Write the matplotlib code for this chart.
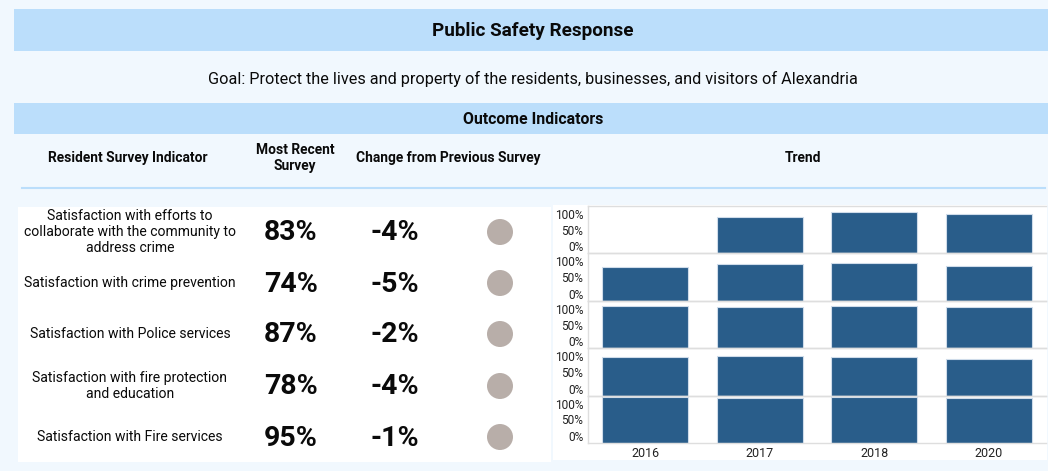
import numpy as np
import matplotlib
matplotlib.use("Agg")
import matplotlib.pyplot as plt
import matplotlib.transforms as mtransforms
from matplotlib.patches import Rectangle, Circle

plt.rcParams['font.family'] = ['Roboto', 'DejaVu Sans']

# ---------------- data ----------------
title = "Public Safety Response"
goal = "Goal: Protect the lives and property of the residents, businesses, and visitors of Alexandria"
section = "Outcome Indicators"
headers = ["Resident Survey Indicator", "Most Recent\nSurvey", "Change from Previous Survey", "Trend"]
indicators = [
    "Satisfaction with efforts to\ncollaborate with the community to\naddress crime",
    "Satisfaction with crime prevention",
    "Satisfaction with Police services",
    "Satisfaction with fire protection\nand education",
    "Satisfaction with Fire services",
]
recent = [83, 74, 87, 78, 95]
change = [-4, -5, -2, -4, -1]
years = ["2016", "2017", "2018", "2020"]
trend_collab = [np.nan, 77, 87, 83]
trend_crime = [71, 77, 79, 74]
trend_police = [90, 87, 89, 87]
trend_fireprot = [81, 84, 82, 78]
trend_fire = [96, 94, 96, 95]
trend_rows = [trend_collab, trend_crime, trend_police, trend_fireprot, trend_fire]
y_ticks = [0, 50, 100]
y_ticklabels = ["0%", "50%", "100%"]

# ---------------- style ----------------
W, H = 1048, 471
BG = "#f1f8fe"
BAND = "#bbdefb"
BAR = "#295d8a"
DOT = "#b8aea9"
GRID = "#dedede"
TXT = "#0a0a0a"

fig = plt.figure(figsize=(W / 100, H / 100), dpi=100)
fig.patch.set_facecolor(BG)

bg = fig.add_axes([0, 0, 1, 1])
bg.set_xlim(0, W)
bg.set_ylim(H, 0)
bg.axis("off")

# bands
bg.add_patch(Rectangle((14, 9), W - 14, 42, color=BAND, lw=0))
bg.add_patch(Rectangle((14, 103), W - 14, 31, color=BAND, lw=0))
bg.plot([22, W - 3], [188, 188], color=BAND, lw=1.5)
# white panels
bg.add_patch(Rectangle((18, 207), 533, 255, color="white", lw=0))
bg.add_patch(Rectangle((553, 205), W - 553 - 1, 255, color="white", lw=0))

bg.text(533, 31.5, title, ha="center", va="center", fontsize=13.6, fontweight="bold", color=TXT)
bg.text(533, 78.5, goal, ha="center", va="center", fontsize=11.7, color=TXT)
bg.text(533, 120, section, ha="center", va="center", fontsize=11.4, fontweight="bold", color=TXT)

hx = [128, 295, 448, 803]
for x, h in zip(hx, headers):
    bg.text(x, 158, h, ha="center", va="center", fontsize=9.9, fontweight="bold",
            color=TXT, linespacing=1.15)

row_y = [231, 282, 333, 385, 436]
for i, y in enumerate(row_y):
    bg.text(130, y + 1, indicators[i], ha="center", va="center", fontsize=10.1,
            color=TXT, linespacing=1.2)
    bg.text(291, y + 2, f"{recent[i]}%", ha="center", va="center", fontsize=20.5,
            fontweight="bold", color=TXT)
    bg.text(395, y + 2, f"{change[i]}%", ha="center", va="center", fontsize=20.5,
            fontweight="bold", color=TXT)
    bg.add_patch(Circle((500, y + 1), 13, color=DOT, lw=0))

# ---------------- trend panels ----------------
left, right = 588, 1046
top, bottom = 206, 443
n = len(trend_rows)
ph = (bottom - top) / n
xpos = np.arange(len(years))
for i, vals in enumerate(trend_rows):
    y0 = top + i * ph
    ax = fig.add_axes([left / W, 1 - (y0 + ph) / H, (right - left) / W, ph / H])
    ax.set_facecolor("none")
    ax.bar(xpos, vals, width=0.75, color=BAR, edgecolor="#cfdcea", linewidth=0.8)
    ax.set_xlim(-0.5, len(years) - 0.5)
    ax.set_ylim(0, 100)
    ax.set_yticks(y_ticks)
    ax.set_yticklabels(y_ticklabels)
    ax.tick_params(axis="y", length=0, pad=3.5, labelsize=8.6, labelcolor="#222222")
    offs = [7, 0, -8]
    for lab, dy in zip(ax.get_yticklabels(), offs):
        lab.set_transform(lab.get_transform() +
                          mtransforms.ScaledTranslation(0, dy / 100, fig.dpi_scale_trans))
    ax.spines["right"].set_visible(False)
    for s in ["left", "top", "bottom"]:
        ax.spines[s].set_color(GRID)
        ax.spines[s].set_linewidth(1)
    if i < n - 1:
        ax.set_xticks([])
    else:
        ax.set_xticks(xpos)
        ax.set_xticklabels(years)
        ax.tick_params(axis="x", length=0, pad=3, labelsize=9, labelcolor="#222222")

fig.savefig("out.png", dpi=100, facecolor=BG)
